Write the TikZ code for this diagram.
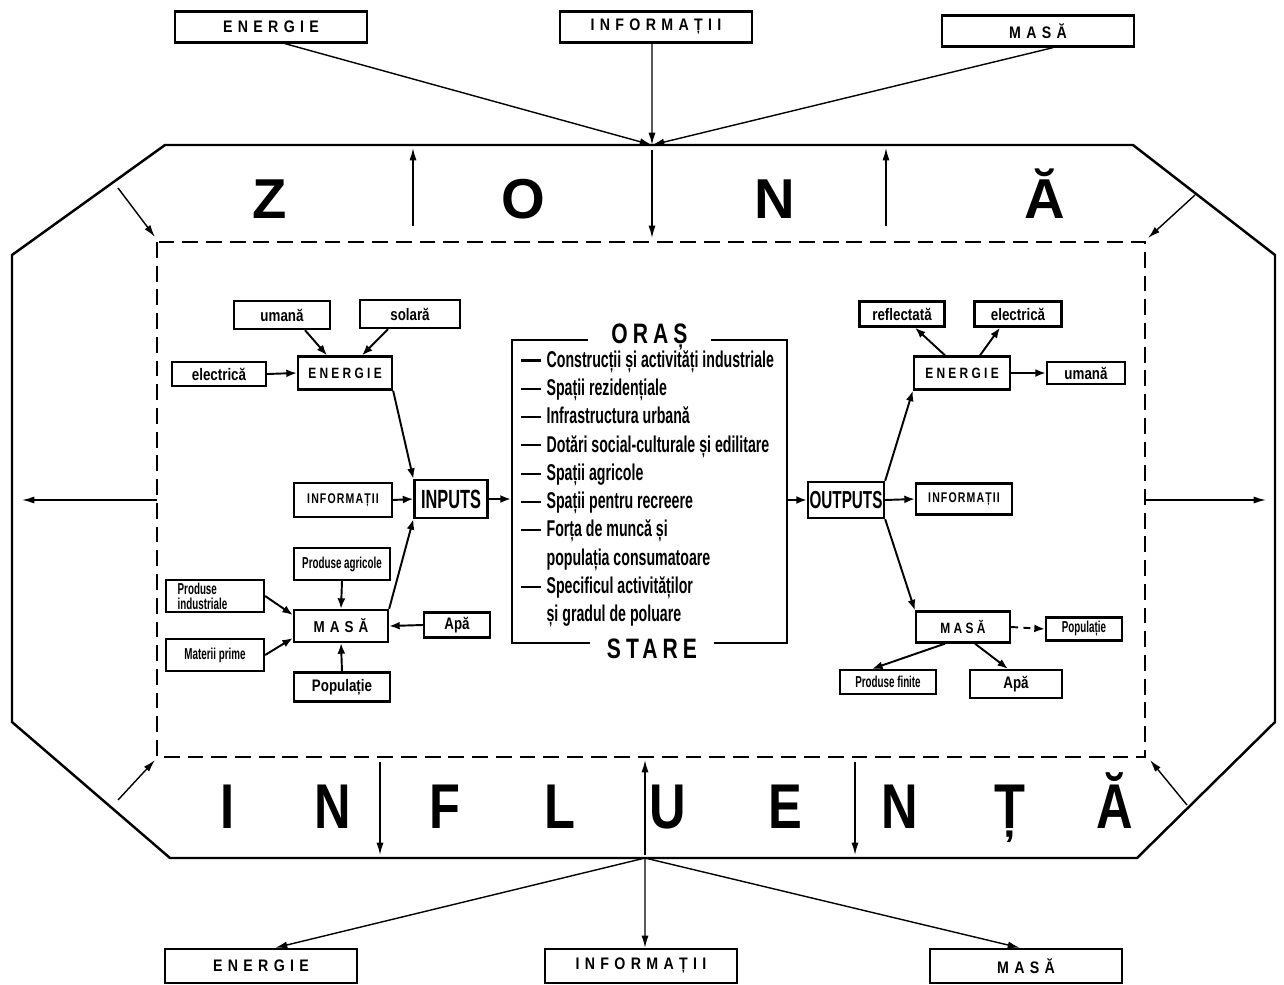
\documentclass[tikz,border=0pt]{standalone}
\usepackage{fontspec}
\setmainfont{Liberation Sans}
\newfontfamily\cf[FakeStretch=0.8]{Liberation Sans}
\newfontfamily\cfl[FakeStretch=0.62]{Liberation Sans}
\newfontfamily\spw[FakeStretch=0.85,LetterSpace=32]{Liberation Sans}
\newfontfamily\sps[FakeStretch=0.8,LetterSpace=22]{Liberation Sans}
\newfontfamily\spn[FakeStretch=0.75,LetterSpace=8]{Liberation Sans}
\newfontfamily\spt[FakeStretch=0.75,LetterSpace=18]{Liberation Sans}
\usetikzlibrary{arrows.meta}
\newcommand\lidash{\rule[3.2pt]{0.4cm}{1.2pt}}
\begin{document}
\begin{tikzpicture}[x=0.02cm,y=-0.02cm,
  box/.style={draw,line width=1.3pt,inner sep=1pt,align=center},
  bigbox/.style={box,minimum width=3.84cm,minimum height=0.62cm,font=\spw\bfseries\fontsize{9.5}{11}\selectfont},
  capl/.style={font=\sps\bfseries\fontsize{8.5}{10}\selectfont},
  capn/.style={font=\spn\bfseries\fontsize{8}{10}\selectfont},
  lowl/.style={font=\cf\bfseries\fontsize{9.5}{10}\selectfont},
  smll/.style={font=\cfl\bfseries\fontsize{9}{9}\selectfont},
  iol/.style={font=\cfl\bfseries\fontsize{15}{16}\selectfont},
  arr/.style={line width=1.1pt,-{Latex[length=6pt,width=4.5pt]}},
  tarr/.style={line width=0.8pt,-{Latex[length=7pt,width=4pt]}},
  bigl/.style={font=\fontsize{32}{36}\selectfont\bfseries,anchor=base,inner sep=0},
  bigb/.style={font=\cf\fontsize{36}{40}\selectfont\bfseries,anchor=base,inner sep=0},
  ttl/.style={fill=white,inner ysep=0pt,font=\spt\bfseries\fontsize{16}{18}\selectfont}
]
\useasboundingbox (0,0) rectangle (1284,984);
\fill[white] (0,0) rectangle (1284,984);

% outer zone
\draw[line width=1.4pt] (165,145) -- (1133,145) -- (1275,255) -- (1275,722)
  -- (1137,858) -- (170,858) -- (12,722) -- (12,255) -- cycle;
\draw[line width=1.4pt,dash pattern=on 9pt off 4.5pt] (157,242) rectangle (1145,757);
\coordinate (topC) at (652,145);
\coordinate (botC) at (645,858);

% top boxes
\node[bigbox] (tE) at (271,27) {ENERGIE};
\node[bigbox] (tI) at (656,27) {INFORMAȚII};
\node[bigbox] (tM) at (1038,31) {MASĂ};
\draw[tarr] ([xshift=0.28cm]tE.south) -- (topC);
\draw[tarr] ([xshift=-0.08cm]tI.south) -- (topC);
\draw[tarr] ([xshift=0.3cm]tM.south) -- (topC);

% bottom boxes
\node[bigbox,minimum height=0.68cm] (bE) at (261,966) {ENERGIE};
\node[bigbox,minimum height=0.68cm] (bI) at (641,966) {INFORMAȚII};
\node[bigbox,minimum height=0.68cm] (bM) at (1026,966) {MASĂ};
\draw[tarr] (botC) -- ([xshift=0.28cm]bE.north);
\draw[tarr] (botC) -- ([xshift=0.08cm]bI.north);
\draw[tarr] (botC) -- ([xshift=-0.12cm]bM.north);

% band arrows
\draw[tarr] (413,226) -- (413,148);
\draw[tarr] (652,150) -- (652,238);
\draw[tarr] (886,226) -- (886,148);
\draw[tarr] (118,188) -- (155,237);
\draw[tarr] (1195,195) -- (1148,238);
\draw[tarr] (157,500) -- (22,500);
\draw[tarr] (1145,500) -- (1266,500);
\draw[tarr] (380,762) -- (380,855);
\draw[tarr] (645,855) -- (645,760);
\draw[tarr] (855,762) -- (855,855);
\draw[tarr] (118,800) -- (155,760);
\draw[tarr] (1187,805) -- (1150,760);

% big letters
\node[bigl] (z1) at (270,218) {Z};
\node[bigl] (z2) at (523,218) {O};
\node[bigl] (z3) at (775,218) {N};
\node[bigl] (z4) at (1045,218) {Ă};
\node[bigb] (i1) at (228,828) {I};
\node[bigb] (i2) at (333,828) {N};
\node[bigb] (i3) at (445,828) {F};
\node[bigb] (i4) at (560,828) {L};
\node[bigb] (i5) at (668,828) {U};
\node[bigb] (i6) at (785,828) {E};
\node[bigb] (i7) at (900,828) {N};
\node[bigb] (i8) at (1010,828) {Ț};
\node[bigb] (i9) at (1115,828) {Ă};

% left inputs
\node[box,lowl,minimum width=1.92cm,minimum height=0.56cm] (uL) at (282,315) {umană};
\node[box,lowl,minimum width=2.0cm,minimum height=0.56cm] (sL) at (410,314) {solară};
\node[box,lowl,minimum width=1.88cm,minimum height=0.48cm] (eL) at (219,374) {electrică};
\node[box,capl,minimum width=1.88cm,minimum height=0.66cm] (EL) at (345,373) {ENERGIE};
\node[box,capn,minimum width=1.96cm,minimum height=0.68cm] (IL) at (343,500) {INFORMAȚII};
\node[box,iol,minimum width=1.46cm,minimum height=0.76cm,inner sep=0pt] (IN) at (451,499) {INPUTS};
\node[box,smll,minimum width=1.92cm,minimum height=0.64cm] (PA) at (342,564) {Produse agricole};
\node[box,minimum width=1.96cm,minimum height=0.64cm,align=left,font=\cfl\bfseries\fontsize{9}{8.5}\selectfont] (PI) at (215,596) {Produse\hphantom{lexxxxx}\\industriale};
\node[box,font=\spw\bfseries\fontsize{9}{10}\selectfont,minimum width=1.88cm,minimum height=0.64cm] (ML) at (341,626) {MASĂ};
\node[box,smll,minimum width=1.96cm,minimum height=0.64cm] (MP) at (215,655) {Materii prime};
\node[box,lowl,minimum width=1.32cm,minimum height=0.5cm] (AL) at (457,625) {Apă};
\node[box,lowl,minimum width=1.92cm,minimum height=0.58cm] (PL) at (342,687) {Populație};

\draw[arr] ([xshift=0.46cm]uL.south) -- ([xshift=-0.36cm]EL.north);
\draw[arr] ([xshift=-0.44cm]sL.south) -- ([xshift=0.34cm]EL.north);
\draw[arr] (eL.east) -- (EL.west);
\draw[arr] (EL.south east) -- (IN.north west);
\draw[arr] (IL.east) -- (IN.west);
\draw[arr] (ML.north east) -- (IN.south west);
\draw[arr] (PA.south) -- (ML.north);
\draw[arr] (PI.east) -- ([yshift=0.22cm]ML.west);
\draw[arr] (MP.east) -- ([yshift=-0.24cm]ML.west);
\draw[arr] (AL.west) -- (ML.east);
\draw[arr] (PL.north) -- (ML.south);

% city box
\node[draw,line width=1.3pt,minimum width=5.5cm,minimum height=6.06cm] (OR) at (649.5,491.5) {};
\node[ttl,minimum width=2.46cm] (ORt) at ([yshift=0.04cm]OR.north) {ORAȘ};
\node[ttl,minimum width=2.5cm] (ORs) at ([xshift=0.05cm,yshift=-0.1cm]OR.south) {STARE};
\node[anchor=north west,inner sep=0,font=\cfl\bfseries\fontsize{13}{16.1}\selectfont] (list) at (521,347) {%
\begin{tabular}{@{}l@{\hspace{3pt}}l@{}}
\lidash & Construcții și activități industriale\\
\lidash & Spații rezidențiale\\
\lidash & Infrastructura urbană\\
\lidash & Dotări social-culturale și edilitare\\
\lidash & Spații agricole\\
\lidash & Spații pentru recreere\\
\lidash & Forța de muncă și\\
 & populația consumatoare\\
\lidash & Specificul activităților\\
 & și gradul de poluare
\end{tabular}};
\draw[arr] (IN.east) -- (IN.east -| OR.west);

% right outputs
\node[box,minimum width=1.52cm,minimum height=0.72cm,inner sep=0pt,font=\cfl\bfseries\fontsize{14}{15}\selectfont] (OUT) at (846,500) {OUTPUTS};
\node[box,lowl,minimum width=1.7cm,minimum height=0.5cm] (rR) at (902,314) {reflectată};
\node[box,lowl,minimum width=1.74cm,minimum height=0.5cm] (eR) at (1018,314) {electrică};
\node[box,capl,minimum width=1.92cm,minimum height=0.66cm] (ER) at (962,373) {ENERGIE};
\node[box,lowl,minimum width=1.56cm,minimum height=0.44cm] (uR) at (1086,373) {umană};
\node[box,capn,minimum width=1.92cm,minimum height=0.62cm] (IR) at (964,499) {INFORMAȚII};
\node[box,capl,minimum width=1.88cm,minimum height=0.62cm] (MR) at (963,627) {MASĂ};
\node[box,smll,minimum width=1.52cm,minimum height=0.46cm] (PR) at (1084,629) {Populație};
\node[box,smll,minimum width=1.92cm,minimum height=0.48cm] (FR) at (888,682) {Produse finite};
\node[box,lowl,minimum width=1.84cm,minimum height=0.56cm] (AR) at (1016,684) {Apă};

\draw[arr] (OUT.west -| OR.east) -- (OUT.west);
\draw[arr] (OUT.north east) -- (ER.south west);
\draw[arr] (OUT.east) -- (IR.west);
\draw[arr] (OUT.south east) -- (MR.north west);
\draw[arr] ([xshift=-0.34cm]ER.north) -- ([xshift=0.26cm]rR.south);
\draw[arr] ([xshift=0.36cm]ER.north) -- ([xshift=-0.36cm]eR.south);
\draw[arr] (ER.east) -- (uR.west);
\draw[arr,dash pattern=on 4pt off 3pt] (MR.east) -- (PR.west);
\draw[arr] ([xshift=-0.36cm]MR.south) -- ([xshift=-0.32cm]FR.north);
\draw[arr] ([xshift=0.24cm]MR.south) -- ([xshift=-0.16cm]AR.north);
\end{tikzpicture}
\end{document}
